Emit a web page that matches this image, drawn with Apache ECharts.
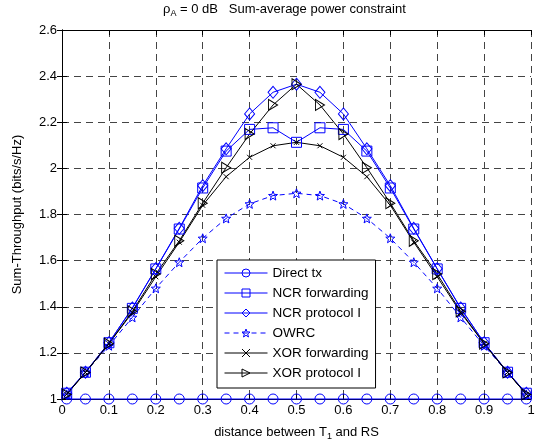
<!DOCTYPE html>
<html>
<head>
<meta charset="utf-8">
<script src="https://cdn.jsdelivr.net/npm/echarts@6/dist/echarts.min.js"></script>
<style>
html,body{margin:0;padding:0;background:#fff;}
#chart{width:541px;height:444px;}
</style>
</head>
<body>
<div id="chart"></div>
<script>
// ---- data ----
var distances = [0.01,0.05,0.1,0.15,0.2,0.25,0.3,0.35,0.4,0.45,0.5,0.55,0.6,0.65,0.7,0.75,0.8,0.85,0.9,0.95,0.99];
var directTx = [1,1,1,1,1,1,1,1,1,1,1,1,1,1,1,1,1,1,1,1,1];
var ncrForwarding = [1.025,1.116,1.244,1.393,1.564,1.737,1.915,2.075,2.169,2.176,2.113,2.176,2.169,2.075,1.915,1.737,1.564,1.393,1.244,1.116,1.025];
var ncrProtocol1 = [1.025,1.116,1.244,1.395,1.565,1.740,1.925,2.085,2.236,2.330,2.365,2.330,2.236,2.085,1.925,1.740,1.565,1.395,1.244,1.116,1.025];
var owrc = [1.020,1.115,1.231,1.354,1.480,1.593,1.697,1.783,1.846,1.882,1.892,1.882,1.846,1.783,1.697,1.593,1.480,1.354,1.231,1.115,1.020];
var xorForwarding = [1.020,1.115,1.240,1.375,1.530,1.680,1.840,1.964,2.048,2.098,2.113,2.098,2.048,1.964,1.840,1.680,1.530,1.375,1.240,1.115,1.020];
var xorProtocol1 = [1.020,1.115,1.240,1.380,1.542,1.686,1.849,2.003,2.149,2.275,2.365,2.275,2.149,2.003,1.849,1.686,1.542,1.380,1.240,1.115,1.020];
var seriesNames = ['Direct tx','NCR forwarding','NCR protocol I','OWRC','XOR forwarding','XOR protocol I'];
var xMin = 0, xMax = 1, xStep = 0.1;
var yMin = 1, yMax = 2.6, yStep = 0.2;

function pairs(xs, ys){ return xs.map(function(x,i){ return [x, ys[i]]; }); }

// star symbol path
function starPath(){
  var pts = [];
  for (var i = 0; i < 10; i++) {
    var r = (i % 2 === 0) ? 10 : 4.2;
    var a = -Math.PI/2 + i*Math.PI/5;
    pts.push((10 + r*Math.cos(a)).toFixed(2) + ',' + (10 + r*Math.sin(a)).toFixed(2));
  }
  return 'path://M' + pts.join('L') + 'Z';
}

var FONT = '"Liberation Sans", Arial, Helvetica, sans-serif';
var BLUE = '#0000ff', BLACK = '#000000';

function mk(name, data, color, symbol, size, dashed){
  return {
    name: name, type: 'line', data: pairs(distances, data),
    clip: false, animation: false,
    symbol: symbol, symbolSize: size, showAllSymbol: true,
    lineStyle: { color: color, width: 1, type: dashed ? [5,4] : 'solid' },
    itemStyle: { color: 'rgba(0,0,0,0)', borderColor: color, borderWidth: 1 },
    emphasis: { disabled: true }
  };
}

var chart = echarts.init(document.getElementById('chart'), null, {renderer: 'canvas'});
var gridLine = { show: true, lineStyle: { color: '#444', type: [7,5], width: 1 } };
var tickIn = { show: true, inside: true, length: 5, lineStyle: { color: BLACK } };
var axisLn = { show: true, lineStyle: { color: BLACK, width: 1 } };
var lbl = { color: BLACK, fontSize: 13, fontFamily: FONT };
var txt = { fontSize: 13, fontFamily: FONT, color: BLACK, fontWeight: 'normal' };
var sub = { fontSize: 9, fontFamily: FONT, color: BLACK, fontWeight: 'normal', padding: [8,0,0,0] };

chart.setOption({
  backgroundColor: '#fff',
  animation: false,
  title: {
    text: '{a|ρ}{s|A}{a| = 0 dB   Sum-average power constraint}',
    left: 158, top: -4,
    textStyle: { fontWeight: 'normal', rich: { a: txt, s: sub } }
  },
  grid: { left: 62, right: 10, top: 30, bottom: 45, containLabel: false, outerBoundsMode: 'none' },
  legend: {
    orient: 'vertical', left: 217, top: 260,
    padding: [6, 7, 8, 7],
    itemWidth: 43, itemHeight: 10, itemGap: 6,
    backgroundColor: '#fff', borderColor: BLACK, borderWidth: 1,
    lineStyle: { width: 1 },
    itemStyle: { borderWidth: 1 },
    textStyle: { color: BLACK, fontSize: 13.5, lineHeight: 14, fontFamily: FONT },
    data: seriesNames, z: 10
  },
  xAxis: [
    { type: 'value', min: xMin, max: xMax, interval: xStep, position: 'bottom',
      axisLine: axisLn, axisTick: tickIn, splitLine: gridLine,
      axisLabel: Object.assign({ margin: 5 }, lbl),
      name: '{a|distance between T}{s|1}{a| and RS}', nameLocation: 'middle', nameGap: 25,
      nameTextStyle: { rich: { a: txt, s: sub } } },
    { type: 'value', min: xMin, max: xMax, interval: xStep, position: 'top',
      axisLine: axisLn, axisTick: tickIn, splitLine: { show: false }, axisLabel: { show: false } }
  ],
  yAxis: [
    { type: 'value', min: yMin, max: yMax, interval: yStep, position: 'left',
      axisLine: axisLn, axisTick: tickIn, splitLine: gridLine,
      axisLabel: Object.assign({ margin: 5 }, lbl),
      name: 'Sum-Throughput (bits/s/Hz)', nameLocation: 'middle', nameGap: 38,
      nameTextStyle: { fontSize: 13, fontFamily: FONT, color: BLACK } },
    { type: 'value', min: yMin, max: yMax, interval: yStep, position: 'right',
      axisLine: axisLn, axisTick: tickIn, splitLine: { show: false }, axisLabel: { show: false } }
  ],
  series: [
    mk(seriesNames[0], directTx, BLUE, 'circle', 10, false),
    mk(seriesNames[1], ncrForwarding, BLUE, 'rect', 10, false),
    mk(seriesNames[2], ncrProtocol1, BLUE, 'diamond', [10,12], false),
    mk(seriesNames[3], owrc, BLUE, starPath(), 9, true),
    mk(seriesNames[4], xorForwarding, BLACK, 'path://M0,0L10,10M10,0L0,10', 5, false),
    mk(seriesNames[5], xorProtocol1, BLACK, 'path://M0,0L10,5L0,10Z', [9,11], false)
  ]
});
</script>
</body>
</html>
